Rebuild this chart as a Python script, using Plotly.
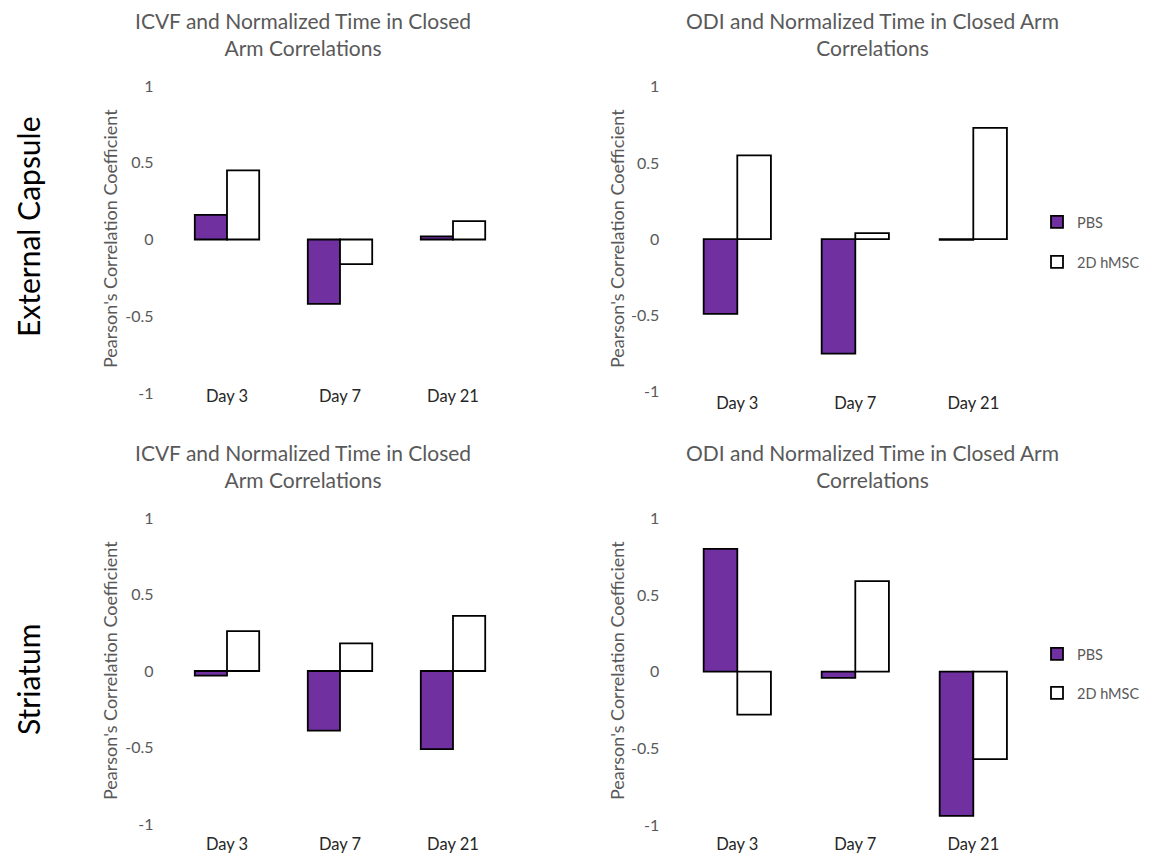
import plotly.graph_objects as go

W, H = 1151, 854
OFF = 8  # default body margin of the written page

days = ["Day 3", "Day 7", "Day 21"]
series_names = ["PBS", "2D hMSC"]
y_ticks = [-1, -0.5, 0, 0.5, 1]
y_tick_text = ["-1", "-0.5", "0", "0.5", "1"]

# External Capsule
ec_icvf_pbs = [0.16, -0.42, 0.02]
ec_icvf_hmsc = [0.45, -0.16, 0.12]
ec_odi_pbs = [-0.49, -0.75, -0.005]
ec_odi_hmsc = [0.55, 0.04, 0.73]
# Striatum
st_icvf_pbs = [-0.03, -0.39, -0.51]
st_icvf_hmsc = [0.26, 0.18, 0.36]
st_odi_pbs = [0.80, -0.04, -0.94]
st_odi_hmsc = [-0.28, 0.59, -0.57]

icvf_title = "ICVF and Normalized Time in Closed<br>Arm Correlations"
odi_title = "ODI and Normalized Time in Closed Arm<br>Correlations"
row_labels = ["External Capsule", "Striatum"]
y_title = "Pearson's Correlation Coefficient"

PURPLE = "#7030A0"
GRAY = "#595959"
FONT = "Lato"

def px_x(p):
    return (p - OFF) / W

def px_y(p):
    return 1 - (p - OFF) / H

panels = [
    ("", (170.5, 509.5), (86, 393), ec_icvf_pbs, ec_icvf_hmsc, None, 16, -9),
    ("2", (678.3, 1032.3), (86.7, 391.7), ec_odi_pbs, ec_odi_hmsc,
     (("legend", 222), ("legend2", 262)), 18, 0),
    ("3", (170.5, 509.5), (518, 824), st_icvf_pbs, st_icvf_hmsc, None, 16, 8),
    ("4", (678.3, 1032.3), (518.3, 825), st_odi_pbs, st_odi_hmsc,
     (("legend3", 654), ("legend4", 693)), 18, 7),
]

fig = go.Figure()
layout = {}
legend_common = dict(xanchor="left", yanchor="middle", bgcolor="rgba(0,0,0,0)",
                     font=dict(family=FONT, size=14.5, color=GRAY), borderwidth=0)
for aid, (x0, x1), (yt, yb), pbs, hmsc, legs, ystand, xstand in panels:
    xa = "x" + aid
    ya = "y" + aid
    for i, (name, vals, color) in enumerate([(series_names[0], pbs, PURPLE),
                                             (series_names[1], hmsc, "white")]):
        kw = dict(x=days, y=vals, name=name, xaxis=xa, yaxis=ya,
                  marker=dict(color=color, line=dict(color="black", width=1.8)),
                  showlegend=legs is not None, hoverinfo="x+y+name")
        if legs is not None:
            lname, ly = legs[i]
            kw["legend"] = lname
            layout[lname] = dict(x=px_x(1037), y=px_y(ly), **legend_common)
        fig.add_trace(go.Bar(**kw))
    layout["xaxis" + aid] = dict(
        domain=[px_x(x0), px_x(x1)], anchor=ya, type="category",
        range=[-0.5, 2.5], showgrid=False, zeroline=False, showline=False,
        ticks="", tickfont=dict(family=FONT, size=16.5, color="#262626"),
        ticklabelstandoff=xstand, automargin=False,
    )
    layout["yaxis" + aid] = dict(
        domain=[px_y(yb), px_y(yt)], anchor=xa, range=[-1, 1],
        tickvals=y_ticks, ticktext=y_tick_text, showgrid=False,
        zeroline=False, showline=False, ticks="",
        tickfont=dict(family=FONT, size=16, color=GRAY),
        ticklabelstandoff=ystand, automargin=False,
    )

annotations = []
for txt, cx, cy in [(icvf_title, 303, 34), (odi_title, 872, 34),
                    (icvf_title, 303, 466), (odi_title, 872, 466)]:
    annotations.append(dict(text=txt, x=px_x(cx), y=px_y(cy), xref="paper", yref="paper",
                            xanchor="center", yanchor="middle", showarrow=False,
                            font=dict(family=FONT, size=21, color=GRAY)))
for cx, cy in [(110, 239), (617, 239), (110, 671), (617, 671)]:
    annotations.append(dict(text=y_title, x=px_x(cx), y=px_y(cy), xref="paper", yref="paper",
                            xanchor="center", yanchor="middle", textangle=-90, showarrow=False,
                            font=dict(family=FONT, size=18, color=GRAY)))
for txt, cy in zip(row_labels, [227, 680]):
    annotations.append(dict(text=txt, x=px_x(28), y=px_y(cy), xref="paper", yref="paper",
                            xanchor="center", yanchor="middle", textangle=-90, showarrow=False,
                            font=dict(family=FONT, size=30, color="black")))

fig.update_layout(
    template="none",
    width=W, height=H, margin=dict(l=0, r=0, t=0, b=0, autoexpand=False),
    paper_bgcolor="white", plot_bgcolor="white",
    barmode="group", bargap=0.43, bargroupgap=0,
    annotations=annotations,
    **layout,
)

fig.write_html("out.html")
